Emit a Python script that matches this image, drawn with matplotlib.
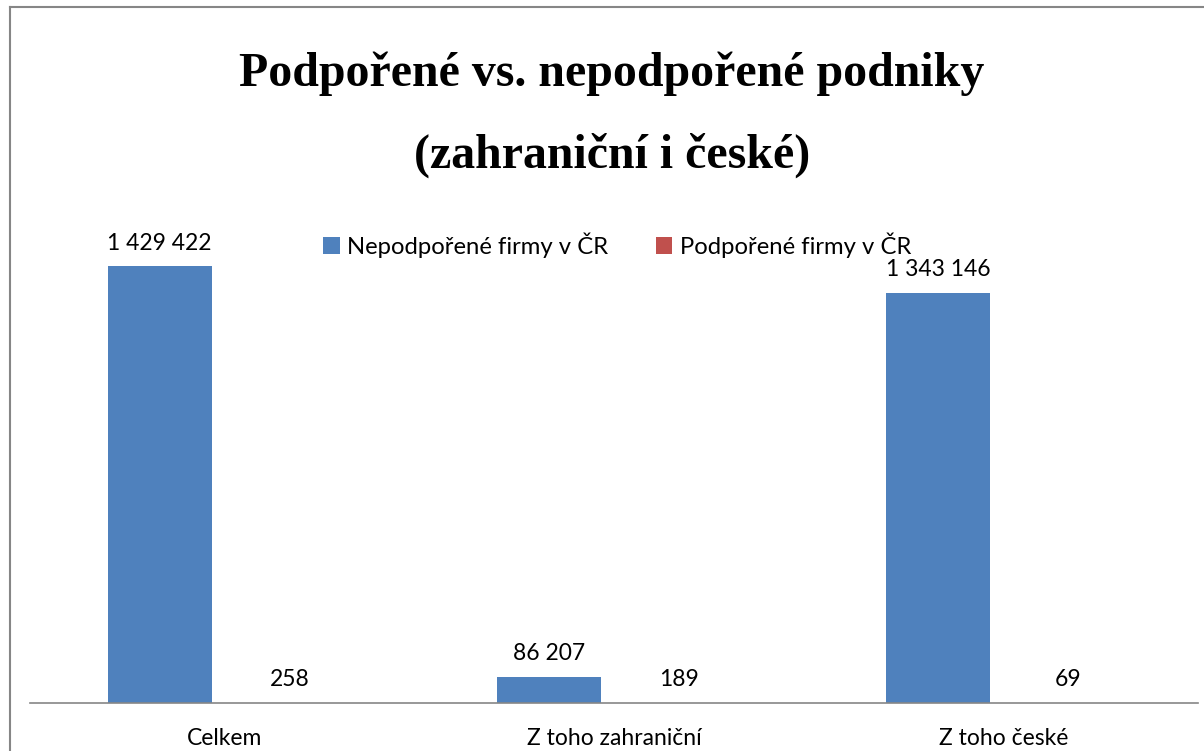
#!/usr/bin/env python3
"""Podpořené vs. nepodpořené podniky - grouped bar chart."""

import matplotlib

matplotlib.use("Agg")
import matplotlib.pyplot as plt
from matplotlib.lines import Line2D
import numpy as np

CATEGORIES = ["Celkem", "Z toho zahraniční", "Z toho české"]
NEPODPORENE = [1429422, 86207, 1343146]
PODPORENE = [258, 189, 69]
SERIES_NAMES = ["Nepodpořené firmy v ČR", "Podpořené firmy v ČR"]
TITLE = "Podpořené vs. nepodpořené podniky\n(zahraniční i české)"

BLUE = "#4F81BD"
RED = "#C0504D"
LABEL_FONT = "Lato"


def fmt(v):
    return f"{v:,}".replace(",", " ")


def main():
    W, H = 1204, 751
    fig = plt.figure(figsize=(W / 100, H / 100), dpi=100)
    fig.patch.set_facecolor("white")

    ax = fig.add_axes([30 / W, (H - 703) / H, (1198 - 30) / W, (703 - 214) / H])
    x = np.arange(len(CATEGORIES))
    bw = 0.267
    off = 0.167
    b1 = ax.bar(x - off, NEPODPORENE, bw, color=BLUE, label=SERIES_NAMES[0])
    b2 = ax.bar(x + off, PODPORENE, bw, color=RED, label=SERIES_NAMES[1])

    ax.set_xlim(-0.5, len(CATEGORIES) - 0.5)
    ax.set_ylim(0, 1.6e6)
    for bars, vals in ((b1, NEPODPORENE), (b2, PODPORENE)):
        for rect, v in zip(bars, vals):
            ax.annotate(fmt(v), (rect.get_x() + rect.get_width() / 2, v),
                        xytext=(0, 9), textcoords="offset points",
                        ha="center", va="bottom", fontsize=16.5,
                        family=LABEL_FONT, color="black")

    ax.set_xticks(x)
    ax.set_xticklabels(CATEGORIES, fontsize=16.5, family=LABEL_FONT)
    ax.tick_params(axis="x", length=0, pad=18)
    ax.set_yticks([])
    for s in ("left", "right", "top"):
        ax.spines[s].set_visible(False)
    ax.spines["bottom"].set_color("#868686")
    ax.spines["bottom"].set_linewidth(1.2)

    fig.legend(handles=[b1, b2], labels=SERIES_NAMES, loc="center",
               bbox_to_anchor=(617 / W, 1 - 245 / H), ncol=2, frameon=False,
               prop={"family": LABEL_FONT, "size": 17.2},
               handlelength=0.7, handleheight=0.7, handletextpad=0.3,
               columnspacing=2.0)

    fig.text(612 / W, 1 - 115 / H, TITLE, ha="center", va="center",
             fontsize=34.5, fontweight="bold", family="Liberation Serif",
             linespacing=2.05)

    # chart border
    fig.add_artist(Line2D([10 / W, 1], [1 - 7 / H, 1 - 7 / H], transform=fig.transFigure,
                          color="#868686", linewidth=1.5))
    fig.add_artist(Line2D([10 / W, 10 / W], [0, 1 - 7 / H], transform=fig.transFigure,
                          color="#868686", linewidth=1.5))

    fig.savefig("out.png", dpi=100)


if __name__ == "__main__":
    main()
